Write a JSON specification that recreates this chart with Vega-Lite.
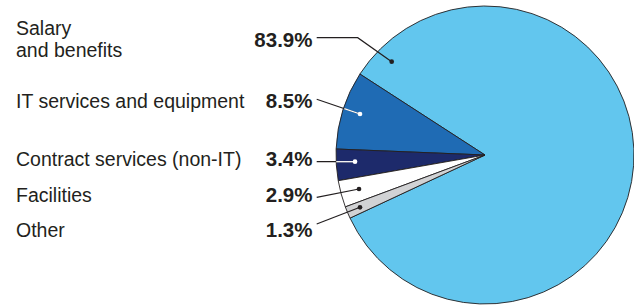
{
  "$schema": "https://vega.github.io/schema/vega-lite/v6.json",
  "width": 634,
  "height": 305,
  "autosize": "none",
  "padding": 0,
  "background": "white",
  "config": {"view": {"stroke": null}, "font": "Liberation Sans"},
  "datasets": {
    "shares": [
      {"category": "Salary and benefits", "label": "Salary\nand benefits", "pctText": "83.9%", "pct": 83.9},
      {"category": "IT services and equipment", "label": "IT services and equipment", "pctText": "8.5%", "pct": 8.5},
      {"category": "Contract services (non-IT)", "label": "Contract services (non-IT)", "pctText": "3.4%", "pct": 3.4},
      {"category": "Facilities", "label": "Facilities", "pctText": "2.9%", "pct": 2.9},
      {"category": "Other", "label": "Other", "pctText": "1.3%", "pct": 1.3}
    ],
    "leaders": [
      {"category": "Salary and benefits", "i": 0, "x": 316.7, "y": 37.7},
      {"category": "Salary and benefits", "i": 1, "x": 357.7, "y": 37.7},
      {"category": "Salary and benefits", "i": 2, "x": 391.7, "y": 61.7},
      {"category": "IT services and equipment", "i": 0, "x": 316.7, "y": 99.3},
      {"category": "IT services and equipment", "i": 1, "x": 360, "y": 114},
      {"category": "Contract services (non-IT)", "i": 0, "x": 316.7, "y": 161.7},
      {"category": "Contract services (non-IT)", "i": 1, "x": 355, "y": 161.7},
      {"category": "Facilities", "i": 0, "x": 316.7, "y": 197.3},
      {"category": "Facilities", "i": 1, "x": 359, "y": 189},
      {"category": "Other", "i": 0, "x": 316.7, "y": 224},
      {"category": "Other", "i": 1, "x": 360, "y": 207.3}
    ],
    "inner": [
      {"category": "IT services and equipment", "x": 344.3, "y": 108.7, "x2": 360, "y2": 114},
      {"category": "Contract services (non-IT)", "x": 336.2, "y": 161.7, "x2": 355, "y2": 161.7}
    ],
    "dots": [
      {"category": "Salary and benefits", "x": 391.7, "y": 61.7},
      {"category": "IT services and equipment", "x": 360, "y": 114},
      {"category": "Contract services (non-IT)", "x": 355, "y": 161.7},
      {"category": "Facilities", "x": 359, "y": 189},
      {"category": "Other", "x": 360, "y": 207.3}
    ]
  },
  "encoding": {
    "x": {"type": "quantitative", "scale": {"domain": [0, 634], "nice": false, "zero": false}, "axis": null},
    "y": {"type": "quantitative", "scale": {"domain": [0, 305], "nice": false, "zero": false, "reverse": true}, "axis": null}
  },
  "layer": [
    {
      "data": {"name": "shares"},
      "mark": {"type": "arc", "outerRadius": 149, "stroke": "#231F20", "strokeWidth": 0.9},
      "encoding": {
        "theta": {"field": "pct", "type": "quantitative", "stack": true, "scale": {"range": [4.2751, 10.5583]}},
        "order": {"field": "pct", "sort": "ascending"},
        "color": {
          "field": "category", "type": "nominal", "legend": null,
          "scale": {
            "domain": ["Salary and benefits", "IT services and equipment", "Contract services (non-IT)", "Facilities", "Other"],
            "range": ["#62C6EE", "#1F6BB4", "#1D2A6B", "#FFFFFF", "#D1D2D4"]
          }
        },
        "x": {"datum": 485, "type": "quantitative"},
        "y": {"datum": 155, "type": "quantitative"}
      }
    },
    {
      "data": {"name": "leaders"},
      "mark": {"type": "line", "stroke": "#231F20", "strokeWidth": 1.2},
      "encoding": {
        "x": {"field": "x", "type": "quantitative"},
        "y": {"field": "y", "type": "quantitative"},
        "detail": {"field": "category"},
        "order": {"field": "i"}
      }
    },
    {
      "data": {"name": "inner"},
      "mark": {"type": "rule", "stroke": "#FFFFFF", "strokeWidth": 1.3},
      "encoding": {
        "x": {"field": "x", "type": "quantitative"},
        "y": {"field": "y", "type": "quantitative"},
        "x2": {"field": "x2"},
        "y2": {"field": "y2"}
      }
    },
    {
      "data": {"name": "dots"},
      "mark": {"type": "point", "filled": true, "size": 22, "opacity": 1},
      "encoding": {
        "x": {"field": "x", "type": "quantitative"},
        "y": {"field": "y", "type": "quantitative"},
        "color": {
          "field": "category", "type": "nominal", "legend": null,
          "scale": {
            "domain": ["Salary and benefits", "IT services and equipment", "Contract services (non-IT)", "Facilities", "Other"],
            "range": ["#231F20", "#FFFFFF", "#FFFFFF", "#231F20", "#231F20"]
          }
        }
      }
    },
    {
      "data": {"name": "shares"},
      "transform": [{"filter": "datum.category === 'Salary and benefits'"}],
      "mark": {"type": "text", "align": "left", "baseline": "alphabetic", "fontSize": 19.5, "lineBreak": "\n", "lineHeight": 22, "color": "#231F20"},
      "encoding": {"text": {"field": "label"}, "x": {"datum": 16, "type": "quantitative"}, "y": {"datum": 35, "type": "quantitative"}}
    },
    {
      "data": {"name": "shares"},
      "transform": [{"filter": "datum.category === 'IT services and equipment'"}],
      "mark": {"type": "text", "align": "left", "baseline": "alphabetic", "fontSize": 19.5, "color": "#231F20"},
      "encoding": {"text": {"field": "label"}, "x": {"datum": 16, "type": "quantitative"}, "y": {"datum": 107.7, "type": "quantitative"}}
    },
    {
      "data": {"name": "shares"},
      "transform": [{"filter": "datum.category === 'Contract services (non-IT)'"}],
      "mark": {"type": "text", "align": "left", "baseline": "alphabetic", "fontSize": 19.5, "color": "#231F20"},
      "encoding": {"text": {"field": "label"}, "x": {"datum": 16, "type": "quantitative"}, "y": {"datum": 165.7, "type": "quantitative"}}
    },
    {
      "data": {"name": "shares"},
      "transform": [{"filter": "datum.category === 'Facilities'"}],
      "mark": {"type": "text", "align": "left", "baseline": "alphabetic", "fontSize": 19.5, "color": "#231F20"},
      "encoding": {"text": {"field": "label"}, "x": {"datum": 16, "type": "quantitative"}, "y": {"datum": 202.3, "type": "quantitative"}}
    },
    {
      "data": {"name": "shares"},
      "transform": [{"filter": "datum.category === 'Other'"}],
      "mark": {"type": "text", "align": "left", "baseline": "alphabetic", "fontSize": 19.5, "color": "#231F20"},
      "encoding": {"text": {"field": "label"}, "x": {"datum": 16, "type": "quantitative"}, "y": {"datum": 237.3, "type": "quantitative"}}
    },
    {
      "data": {"name": "shares"},
      "transform": [{"filter": "datum.category === 'Salary and benefits'"}],
      "mark": {"type": "text", "align": "right", "baseline": "alphabetic", "fontSize": 20.5, "fontWeight": "bold", "color": "#231F20"},
      "encoding": {"text": {"field": "pctText"}, "x": {"datum": 312.5, "type": "quantitative"}, "y": {"datum": 46.7, "type": "quantitative"}}
    },
    {
      "data": {"name": "shares"},
      "transform": [{"filter": "datum.category === 'IT services and equipment'"}],
      "mark": {"type": "text", "align": "right", "baseline": "alphabetic", "fontSize": 20.5, "fontWeight": "bold", "color": "#231F20"},
      "encoding": {"text": {"field": "pctText"}, "x": {"datum": 312.5, "type": "quantitative"}, "y": {"datum": 107.5, "type": "quantitative"}}
    },
    {
      "data": {"name": "shares"},
      "transform": [{"filter": "datum.category === 'Contract services (non-IT)'"}],
      "mark": {"type": "text", "align": "right", "baseline": "alphabetic", "fontSize": 20.5, "fontWeight": "bold", "color": "#231F20"},
      "encoding": {"text": {"field": "pctText"}, "x": {"datum": 312.5, "type": "quantitative"}, "y": {"datum": 165.7, "type": "quantitative"}}
    },
    {
      "data": {"name": "shares"},
      "transform": [{"filter": "datum.category === 'Facilities'"}],
      "mark": {"type": "text", "align": "right", "baseline": "alphabetic", "fontSize": 20.5, "fontWeight": "bold", "color": "#231F20"},
      "encoding": {"text": {"field": "pctText"}, "x": {"datum": 312.5, "type": "quantitative"}, "y": {"datum": 202.3, "type": "quantitative"}}
    },
    {
      "data": {"name": "shares"},
      "transform": [{"filter": "datum.category === 'Other'"}],
      "mark": {"type": "text", "align": "right", "baseline": "alphabetic", "fontSize": 20.5, "fontWeight": "bold", "color": "#231F20"},
      "encoding": {"text": {"field": "pctText"}, "x": {"datum": 312.5, "type": "quantitative"}, "y": {"datum": 237.3, "type": "quantitative"}}
    }
  ],
  "resolve": {"scale": {"color": "independent"}}
}
